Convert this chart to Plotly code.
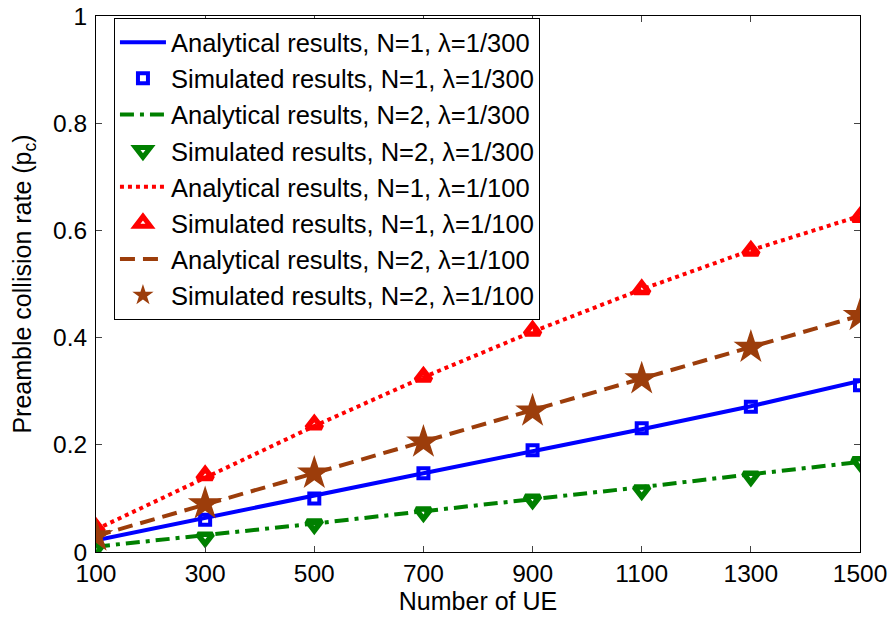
import plotly.graph_objects as go

ue = [100, 300, 500, 700, 900, 1100, 1300, 1500]

ana_n1_300 = [0.022, 0.064, 0.105, 0.147, 0.188, 0.229, 0.272, 0.319]
sim_n1_300 = [0.022, 0.060, 0.100, 0.147, 0.190, 0.231, 0.271, 0.311]
ana_n2_300 = [0.010, 0.031, 0.053, 0.076, 0.098, 0.121, 0.145, 0.168]
sim_n2_300 = [0.008, 0.027, 0.052, 0.074, 0.098, 0.115, 0.141, 0.168]
ana_n1_100 = [0.042, 0.138, 0.235, 0.326, 0.411, 0.490, 0.563, 0.627]
sim_n1_100 = [0.045, 0.143, 0.238, 0.327, 0.413, 0.490, 0.562, 0.625]
ana_n2_100 = [0.030, 0.088, 0.147, 0.206, 0.265, 0.324, 0.383, 0.441]
sim_n2_100 = [0.030, 0.090, 0.147, 0.205, 0.263, 0.323, 0.382, 0.441]

x_ticks = [100, 300, 500, 700, 900, 1100, 1300, 1500]
y_ticks = [0, 0.2, 0.4, 0.6, 0.8, 1]
y_tick_labels = ["0", "0.2", "0.4", "0.6", "0.8", "1"]

blue = "#0000FF"
green = "#008000"
red = "#FF0000"
brown = "#9C3D0B"

fig = go.Figure()

def line(y, color, dash, name, g):
    fig.add_trace(go.Scatter(x=ue, y=y, mode="lines", name=name, legendgroup=g,
                             line=dict(color=color, width=4, dash=dash)))

def mark(y, color, symbol, size, lw, name, g):
    fig.add_trace(go.Scatter(x=ue, y=y, mode="markers", name=name, legendgroup=g,
                             marker=dict(color=color, symbol=symbol, size=size,
                                         line=dict(color=color, width=lw))))

line(ana_n1_300, blue, "solid", "Analytical results, N=1, λ=1/300", "a")
mark(sim_n1_300, blue, "square-open", 10, 4, "Simulated results, N=1, λ=1/300", "b")
line(ana_n2_300, green, "14px,6px,4px,6px", "Analytical results, N=2, λ=1/300", "c")
mark(sim_n2_300, green, "triangle-down-open", 13, 5.5, "Simulated results, N=2, λ=1/300", "d")
line(ana_n1_100, red, "dot", "Analytical results, N=1, λ=1/100", "e")
mark(sim_n1_100, red, "triangle-up-open", 13, 5.5, "Simulated results, N=1, λ=1/100", "f")
line(ana_n2_100, brown, "15px,8px", "Analytical results, N=2, λ=1/100", "g")
mark(sim_n2_100, brown, "star", 26, 0, "Simulated results, N=2, λ=1/100", "h")

font = "Liberation Sans, Arial, sans-serif"

fig.update_layout(
    width=892, height=617,
    margin=dict(l=96, r=32, t=16, b=65),
    paper_bgcolor="white", plot_bgcolor="white",
    font=dict(family=font, size=24.5, color="black"),
    showlegend=True,
    legend=dict(x=0.0235, y=0.996, xanchor="left", yanchor="top",
                bordercolor="black", borderwidth=1, bgcolor="white",
                font=dict(size=25.5, family=font), tracegroupgap=0,
                itemwidth=46),
    xaxis=dict(range=[100, 1500], tickvals=x_ticks, ticks="inside", ticklen=6,
               showline=True, linecolor="black", linewidth=1, mirror="ticks",
               showgrid=False, zeroline=False, automargin=False,
               title=dict(text="Number of UE", font=dict(size=25), standoff=0)),
    yaxis=dict(range=[0, 1], tickvals=y_ticks, ticktext=y_tick_labels, ticks="inside",
               ticklen=6, showline=True, linecolor="black", linewidth=1, mirror="ticks",
               showgrid=False, zeroline=False, automargin=False, ticklabelstandoff=3,
               title=dict(text="Preamble collision rate (p<sub>c</sub>)", font=dict(size=25), standoff=14)),
)

fig.write_html("out.html", config={"displayModeBar": False},
               post_script="document.body.style.margin='0';document.body.style.overflow='hidden';")
